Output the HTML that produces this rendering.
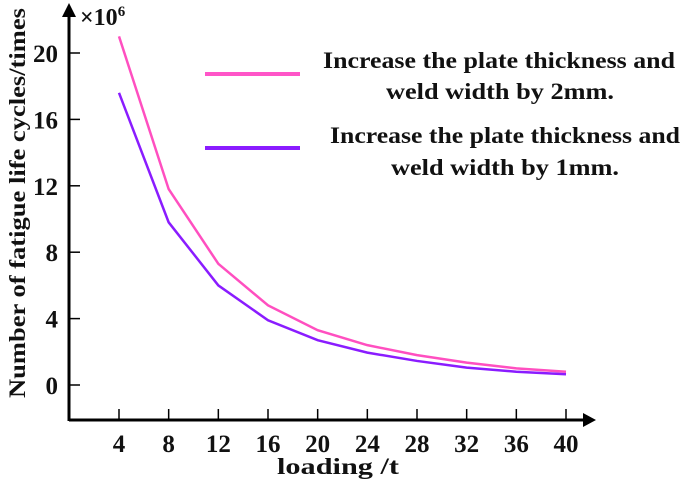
<!DOCTYPE html>
<html><head><meta charset="utf-8"><style>
body{margin:0;background:#fff}
svg text{font-family:"Liberation Serif",serif;font-weight:bold;fill:#111}
</style></head><body>
<svg id="c" width="685" height="480" viewBox="0 0 685 480">
<g id="axes"></g><g id="series"></g>
<g>
<line x1="205" y1="74" x2="300" y2="74" stroke="#ff55c8" stroke-width="4"/>
<text x="323" y="68" font-size="23" textLength="352" lengthAdjust="spacingAndGlyphs">Increase the plate thickness and</text>
<text x="386" y="99" font-size="23" textLength="228" lengthAdjust="spacingAndGlyphs">weld width by 2mm.</text>
<line x1="205" y1="148" x2="300" y2="148" stroke="#8a1cff" stroke-width="4"/>
<text x="330" y="143" font-size="23" textLength="350" lengthAdjust="spacingAndGlyphs">Increase the plate thickness and</text>
<text x="391" y="175" font-size="23" textLength="228" lengthAdjust="spacingAndGlyphs">weld width by 1mm.</text>
</g>
</svg>
<script>
const categories=[4,8,12,16,20,24,28,32,36,40];
const series2mm=[21.0,11.8,7.3,4.8,3.3,2.4,1.8,1.35,1.0,0.8];
const series1mm=[17.6,9.8,6.0,3.9,2.7,1.95,1.45,1.05,0.8,0.65];
const yTicks=[0,4,8,12,16,20];
const NS="http://www.w3.org/2000/svg";
const xS=v=>119+(v-4)*(566-119)/36;
const yS=v=>385-v*(385-53)/20;
function mk(t,a,p){const e=document.createElementNS(NS,t);for(const k in a)e.setAttribute(k,a[k]);p.appendChild(e);return e;}
const ax=document.getElementById('axes');
let e=mk('line',{x1:69,y1:420,x2:587,y2:420,stroke:'#000','stroke-width':3},ax);


e=mk('polygon',{points:'596,420 583,413 583,427',fill:'#000'},ax);


e=mk('line',{x1:69,y1:421,x2:69,y2:14,stroke:'#000','stroke-width':3},ax);


e=mk('polygon',{points:'69,3 62,17 76,17',fill:'#000'},ax);


categories.forEach(c=>{
 let t=mk('line',{x1:xS(c),y1:420,x2:xS(c),y2:409,stroke:'#000','stroke-width':1.5},ax);
 
 
 let l=mk('text',{x:xS(c),y:452,'text-anchor':'middle','font-size':25},ax);l.textContent=c;
 
 
});
yTicks.forEach(v=>{
 let t=mk('line',{x1:69,y1:yS(v),x2:80,y2:yS(v),stroke:'#000','stroke-width':1.5},ax);
 
 
 let l=mk('text',{x:58,y:yS(v)+9,'text-anchor':'end','font-size':25},ax);l.textContent=v;
 
 
});
e=mk('text',{x:338,y:474,'text-anchor':'middle','font-size':23,textLength:122,lengthAdjust:'spacingAndGlyphs'},ax);e.textContent='loading /t';


e=mk('text',{x:0,y:0,'text-anchor':'middle','font-size':23,textLength:390,lengthAdjust:'spacingAndGlyphs',transform:'translate(25,203) rotate(-90)'},ax);e.textContent='Number of fatigue life cycles/times';


e=mk('text',{x:80,y:25,'font-size':24},ax);e.innerHTML='×10<tspan dy="-9" font-size="15">6</tspan>';


const sg=document.getElementById('series');
e=mk('polyline',{points:categories.map((c,i)=>xS(c)+','+yS(series2mm[i])).join(' '),fill:'none',stroke:'#ff4fc0','stroke-width':2.5},sg);


e=mk('polyline',{points:categories.map((c,i)=>xS(c)+','+yS(series1mm[i])).join(' '),fill:'none',stroke:'#8a1cff','stroke-width':2.5},sg);


</script>
</body></html>
